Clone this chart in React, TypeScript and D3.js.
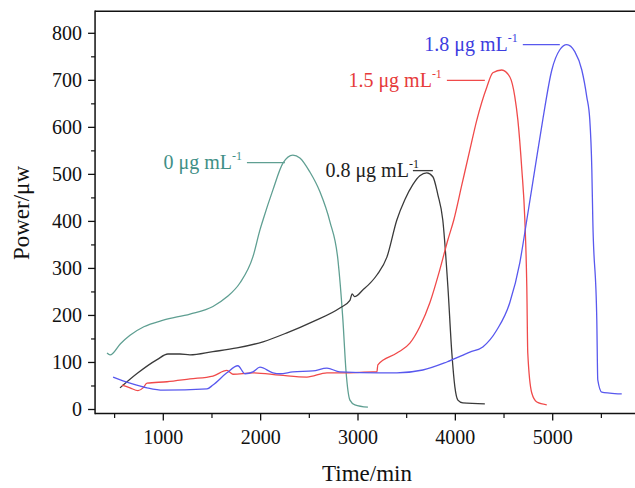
import React from "react";
import * as d3 from "d3";

type Pt = [number, number];

const teal0: Pt[] = [
  [422, 120], [453, 116], [560, 140], [658, 158], [800, 176], [1000, 190], [1274, 203], [1510, 219],
  [1651, 239], [1787, 269], [1921, 325], [1993, 382], [2024, 403], [2126, 467], [2229, 524],
  [2331, 541], [2403, 535], [2506, 505], [2609, 463], [2712, 399], [2794, 318], [2845, 190],
  [2876, 84], [2917, 20], [2968, 10], [3102, 5],
];

const black08: Pt[] = [
  [555, 46], [740, 78], [936, 106], [1048, 118], [1171, 118], [1274, 116], [1510, 123],
  [1757, 131], [2024, 144], [2270, 163], [2537, 187], [2814, 216], [2917, 232], [2940, 246],
  [2965, 240], [3049, 254], [3194, 286], [3297, 324], [3399, 403], [3481, 446], [3563, 478],
  [3635, 497], [3707, 503], [3769, 495], [3820, 457], [3871, 403], [3923, 262], [3964, 120],
  [3995, 48], [4026, 20], [4077, 14], [4303, 12],
];

const red15: Pt[] = [
  [576, 52], [658, 46], [740, 40], [792, 46], [833, 56], [1038, 59], [1274, 65], [1510, 71],
  [1653, 83], [1715, 75], [1921, 78], [2198, 73], [2475, 69], [2681, 78], [2886, 78],
  [3153, 80], [3194, 80], [3204, 95], [3399, 120], [3533, 141], [3635, 176], [3738, 227],
  [3840, 297], [3922, 360], [3984, 403], [4067, 478], [4149, 552], [4221, 616], [4324, 686],
  [4385, 716], [4477, 722], [4560, 707], [4611, 665], [4642, 616], [4683, 510], [4714, 403],
  [4734, 261], [4744, 120], [4785, 35], [4837, 16], [4939, 10],
];

const blue18: Pt[] = [
  [484, 69], [658, 56], [833, 46], [997, 41], [1449, 44], [1510, 52], [1653, 78], [1766, 93],
  [1839, 76], [1921, 80], [1993, 90], [2126, 78], [2198, 76], [2331, 80], [2537, 82],
  [2681, 88], [2814, 80], [3225, 78], [3399, 78], [3666, 84], [3912, 101], [4149, 122],
  [4282, 133], [4426, 169], [4559, 227], [4662, 312], [4734, 403], [4816, 510], [4898, 616],
  [4991, 722], [5073, 765], [5145, 776], [5227, 761], [5299, 722], [5350, 665], [5381, 616],
  [5402, 510], [5412, 403], [5453, 190], [5463, 63], [5504, 37], [5586, 35], [5709, 33],
];

const seriesNames = ["0 μg mL", "0.8 μg mL", "1.5 μg mL", "1.8 μg mL"];
const seriesData = [teal0, black08, red15, blue18];
const lineColors = ["#5f9f92", "#3a3a3a", "#f04a4a", "#5858ee"];
const textColors = ["#3f8f86", "#222222", "#e63a3a", "#3d3de0"];
// annotation leader lines: [t start, t end, value]
const leaders: [number, number, number][] = [
  [1859, 2249, 525],
  [3564, 3769, 508],
  [3913, 4303, 700],
  [4693, 5073, 776],
];

const xMajorTicks = [1000, 2000, 3000, 4000, 5000];
const xMinorTicks = [500, 1500, 2500, 3500, 4500, 5500];
const yMajorTicks = [0, 100, 200, 300, 400, 500, 600, 700, 800];
const yMinorTicks = [50, 150, 250, 350, 450, 550, 650, 750];

const W = 635;
const H = 488;

export default function App() {
  const x = d3.scaleLinear().domain([1000, 5000]).range([163.3, 552.7]);
  const y = d3.scaleLinear().domain([0, 800]).range([409.5, 33.3]);
  const left = x(299);
  const right = x(6000);
  const top = y(847);
  const bottom = y(-8.5);

  const line = d3
    .line<Pt>()
    .x((d) => x(d[0]))
    .y((d) => y(d[1]))
    .curve(d3.curveMonotoneX);

  const font = "'Liberation Serif', 'Times New Roman', serif";

  return (
    <svg
      width={W}
      height={H}
      style={{ position: "absolute", left: 0, top: 0, background: "#fff" }}
      fontFamily={font}
    >
      <defs>
        <clipPath id="plot">
          <rect x={left} y={top} width={right - left} height={bottom - top} />
        </clipPath>
      </defs>
      <rect width={W} height={H} fill="#fff" />

      <g clipPath="url(#plot)">
        {seriesData.map((s, i) => (
          <path
            key={i}
            d={line(s) || ""}
            fill="none"
            stroke={lineColors[i]}
            strokeWidth={1.3}
            strokeLinejoin="round"
          />
        ))}
      </g>

      {/* annotations */}
      {leaders.map((l, i) => {
        const x1 = x(l[0]);
        const x2 = x(l[1]);
        const yy = y(l[2]);
        const textEnd = i === 1 ? x1 + 6 : x1 - 5;
        return (
          <g key={i}>
            <line x1={x1} x2={x2} y1={yy} y2={yy} stroke={lineColors[i]} strokeWidth={1.3} />
            <text
              x={textEnd}
              y={yy + 6.5}
              textAnchor="end"
              fontSize={20}
              fill={textColors[i]}
            >
              {seriesNames[i]}
              <tspan fontSize={12} dy={-9}>
                -1
              </tspan>
            </text>
          </g>
        );
      })}

      {/* frame */}
      <line x1={left} x2={right} y1={top} y2={top} stroke="#111" strokeWidth={1.5} />
      <line x1={left} x2={right} y1={bottom} y2={bottom} stroke="#111" strokeWidth={1.5} />
      <line x1={left} x2={left} y1={top - 0.75} y2={bottom + 0.75} stroke="#111" strokeWidth={1.5} />

      {/* y ticks */}
      {yMajorTicks.map((t) => (
        <g key={"ym" + t}>
          <line x1={left - 7} x2={left} y1={y(t)} y2={y(t)} stroke="#111" strokeWidth={1.3} />
          <text x={left - 13} y={y(t)} dy="0.34em" textAnchor="end" fontSize={20} fill="#111">
            {t}
          </text>
        </g>
      ))}
      {yMinorTicks.map((t) => (
        <line key={"yn" + t} x1={left - 4} x2={left} y1={y(t)} y2={y(t)} stroke="#111" strokeWidth={1.2} />
      ))}

      {/* x ticks */}
      {xMajorTicks.map((t) => (
        <g key={"xm" + t}>
          <line x1={x(t)} x2={x(t)} y1={bottom} y2={bottom + 7} stroke="#111" strokeWidth={1.3} />
          <text x={x(t)} y={bottom + 31} textAnchor="middle" fontSize={20} fill="#111">
            {t}
          </text>
        </g>
      ))}
      {xMinorTicks.map((t) => (
        <line key={"xn" + t} x1={x(t)} x2={x(t)} y1={bottom} y2={bottom + 4.5} stroke="#111" strokeWidth={1.2} />
      ))}

      {/* axis titles */}
      <text x={367} y={481} textAnchor="middle" fontSize={23} fill="#111">
        Time/min
      </text>
      <text
        transform={`translate(29, 213) rotate(-90)`}
        textAnchor="middle"
        fontSize={23}
        fill="#111"
      >
        Power/μw
      </text>
    </svg>
  );
}
